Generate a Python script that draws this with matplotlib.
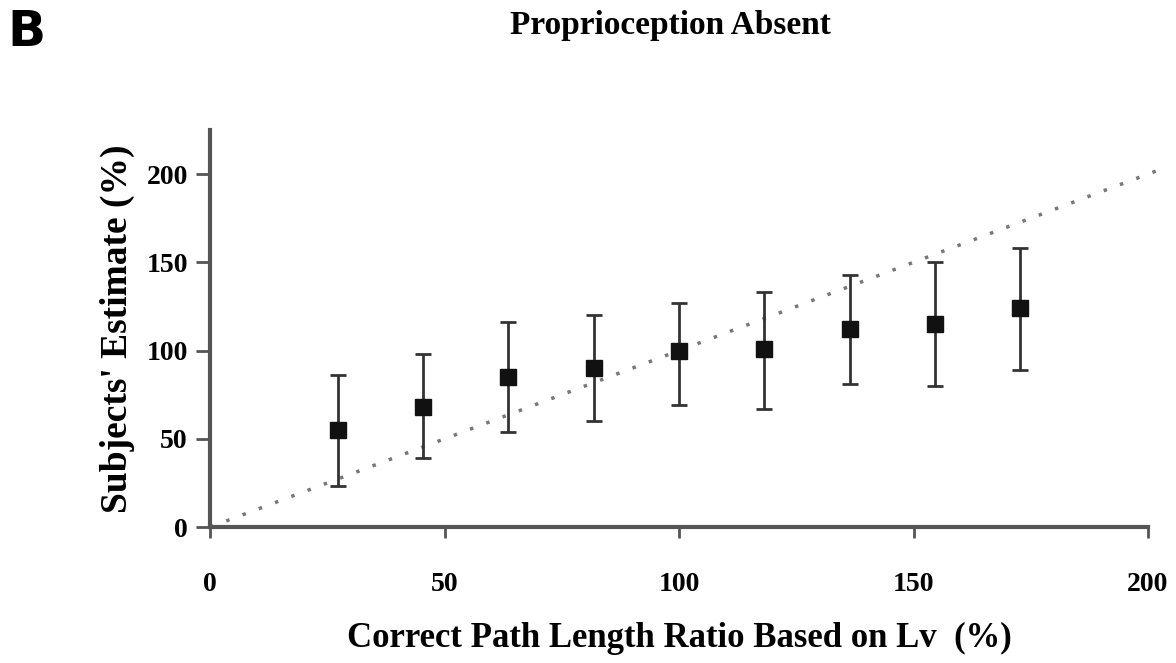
import matplotlib.pyplot as plt

# data
path_ratio = [27.3, 45.5, 63.6, 81.8, 100.0, 118.2, 136.4, 154.5, 172.7]
estimate = [55, 68, 85, 90, 100, 101, 112, 115, 124]
err_upper = [86, 98, 116, 120, 127, 133, 143, 150, 158]
err_lower = [23, 39, 54, 60, 69, 67, 81, 80, 89]
ideal_x = [0, 202]
ideal_y = [0, 202]

yerr = [[m - lo for m, lo in zip(estimate, err_lower)],
        [hi - m for m, hi in zip(estimate, err_upper)]]

serif = ['Liberation Serif', 'DejaVu Serif']

fig = plt.figure(figsize=(11.76, 6.63), dpi=100)
ax = fig.add_axes([0.1786, 0.205, 0.7976, 0.599])

ax.plot(ideal_x, ideal_y, linestyle=(0, (1, 4)), color='#777777', lw=2.5, clip_on=False)
ax.errorbar(path_ratio, estimate, yerr=yerr, fmt='s', color='#111111', ecolor='#333333',
            elinewidth=2, capsize=6, capthick=2, markersize=11)

ax.set_xlim(0, 200)
ax.set_ylim(0, 225)
ax.set_xticks([0, 50, 100, 150, 200])
ax.set_yticks([0, 50, 100, 150, 200])
for s in ['top', 'right']:
    ax.spines[s].set_visible(False)
for s in ['left', 'bottom']:
    ax.spines[s].set_color('#555555')
    ax.spines[s].set_linewidth(3)
ax.tick_params(axis='x', direction='out', length=8, width=2, color='#555555', pad=24)
ax.tick_params(axis='y', direction='out', length=10, width=2, color='#555555', pad=6)
for lab in ax.get_xticklabels() + ax.get_yticklabels():
    lab.set_family(serif)
    lab.set_fontweight('bold')
    lab.set_fontsize(20)

ax.set_xlabel('Correct Path Length Ratio Based on Lv  (%)', family=serif,
              fontweight='bold', fontsize=25, labelpad=18)
ax.set_ylabel("Subjects' Estimate (%)", family=serif, fontweight='bold',
              fontsize=27, labelpad=8)

fig.text(0.57, 0.962, 'Proprioception Absent', family=serif, fontweight='bold',
         fontsize=24, ha='center', va='center')
fig.text(0.006, 0.952, 'B', family='DejaVu Sans', fontweight='bold',
         fontsize=36, ha='left', va='center')

fig.savefig('out.png', dpi=100)
